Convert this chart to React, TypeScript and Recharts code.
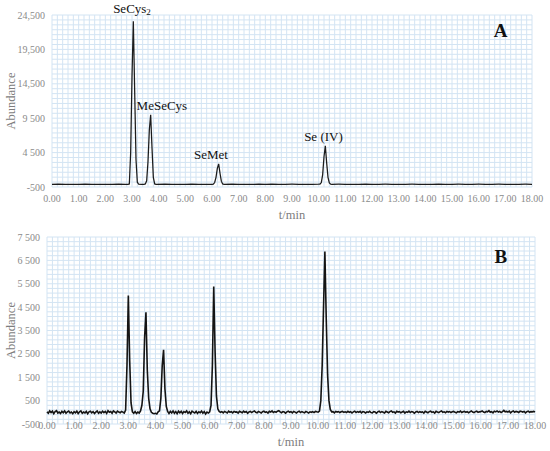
import React from 'react';
import { LineChart, Line, XAxis, YAxis, CartesianGrid, ReferenceDot, Label } from 'recharts';

// ---------- shared ----------
const xTicks = [0, 1, 2, 3, 4, 5, 6, 7, 8, 9, 10, 11, 12, 13, 14, 15, 16, 17, 18];
const xTickLabels = ['0.00', '1.00', '2.00', '3.00', '4.00', '5.00', '6.00', '7.00', '8.00', '9.00', '10.00', '11.00', '12.00', '13.00', '14.00', '15.00', '16.00', '17.00', '18.00'];

// ---------- panel A ----------
const aYTicks = [-500, 4500, 9500, 14500, 19500, 24500];
const aYLabels = ['-500', '4 500', '9 500', '14,500', '19,500', '24,500'];
const aTimes = [
  0, 0.25, 0.5, 0.75, 1.0, 1.25, 1.5, 1.75, 2.0, 2.25, 2.5, 2.75, 2.85, 2.9, 2.95, 3.0, 3.05, 3.1, 3.15, 3.2, 3.25,
  3.35, 3.45, 3.5, 3.55, 3.6, 3.65, 3.7, 3.75, 3.8, 3.85, 3.9, 4.25, 4.5, 4.75, 5.0, 5.25, 5.5, 5.75, 6.0, 6.05,
  6.1, 6.15, 6.2, 6.25, 6.3, 6.35, 6.4, 6.45, 6.75, 7.0, 7.25, 7.5, 7.75, 8.0, 8.25, 8.5, 8.75, 9.0, 9.25, 9.5,
  9.75, 10.0, 10.05, 10.1, 10.15, 10.2, 10.25, 10.3, 10.35, 10.4, 10.45, 10.5, 10.75, 11, 11.25, 11.5, 11.75, 12,
  12.25, 12.5, 12.75, 13, 13.25, 13.5, 13.75, 14, 14.25, 14.5, 14.75, 15, 15.25, 15.5, 15.75, 16, 16.25, 16.5,
  16.75, 17, 17.25, 17.5, 17.75, 18,
];
const aAbundance = [
  -110, -100, -120, -105, -115, -100, -110, -120, -105, -110, -100, -115, -110, -60, 4500, 15500, 23600, 13500, 3500, 200, -100,
  -110, -105, -60, 400, 3200, 7800, 10000, 5200, 900, -60, -110, -100, -115, -105, -110, -100, -115, -105, -110, -90,
  150, 900, 2200, 2850, 1500, 350, -60, -110, -100, -115, -105, -110, -95, -110, -100, -115, -105, -100, -110, -105,
  -115, -100, -90, 150, 1300, 3900, 5500, 3000, 900, 100, -90, -110, -100, -110, -105, -115, -100, -110,
  -105, -100, -115, -105, -110, -100, -110, -105, -115, -100, -110, -105, -100, -115, -110, -100, -110, -105,
  -100, -115, -105, -110, -100, -110,
];
const aPeakLabels = [
  { name: 'SeCys', sub: '2', t: 3.0, v: 25500 },
  { name: 'MeSeCys', sub: '', t: 4.12, v: 11300 },
  { name: 'SeMet', sub: '', t: 5.96, v: 4200 },
  { name: 'Se (IV)', sub: '', t: 10.18, v: 6810 },
];
const aPanelLetter = { text: 'A', t: 16.82, v: 22300 };

// ---------- panel B ----------
const bYTicks = [-500, 500, 1500, 2500, 3500, 4500, 5500, 6500, 7500];
const bYLabels = ['-500', '500', '1 500', '2 500', '3 500', '4 500', '5 500', '6 500', '7 500'];
const B_STEP = 0.05; // sampling interval (min)
const bAbundance = [
  20, -40, 60, -10, 50, -60, 30, 70, -30, 10, -50, 40, -20, 60, -40, 20, 50, -30, 10, -60,
  30, -20, 50, -50, 20, 60, -40, 10, -30, 40, -60, 20, 50, -20, 30, -50, 10, 60, -40, 20,
  -30, 50, -10, 40, -50, 70, 0, 30, -40, 60, 20, -30, 50, 10, -20, 40, 10, -30, 100, 2000,
  5000, 2200, 400, 20, -40, 30, -50, 10, -30, 60, 300, 900, 3200, 4280, 1800, 600, 150, 0, -40, -60,
  -40, -70, 20, 60, 600, 2000, 2670, 1000, 250, 40, -50, 40, -30, 60, -40, 30, -60, 50, -20, 40,
  -50, 30, -10, 60, -40, 20, -60, 50, 10, -30, 40, -50, 20, -20, 50, -40, 30, -70, 10, -30,
  20, 300, 2000, 5380, 2600, 700, 150, 40, 0, 30, -20, 40, 10, -30, 50, 0, 30, -20, 40, 10,
  20, -30, 40, 10, -20, 50, 0, 30, -40, 20, 40, -10, 30, 60, 0, -20, 40, 10, -30, 30,
  50, 0, 20, -30, 40, 10, 60, -10, 30, 0, 50, 70, 20, -20, 30, 10, -40, 20, 50, 0,
  30, -20, 40, 10, -30, 20, 50, -10, 30, 0, -20, 40, 10, -30, 20, 0, 30, -10, 40, 20,
  10, 50, 500, 2000, 4500, 6880, 4000, 1600, 500, 120, 20, 30, -20, 40, 10, 30, -10, 20, 40, 0,
  20, -10, 40, 0, 30, -30, 20, 50, -10, 30, 0, 40, -20, 30, 10, -30, 20, 0, 40, -10,
  -20, 30, 10, -40, 20, 50, -10, 30, 0, -30, 40, 10, -20, 30, 60, 0, 20, -30, 40, 10,
  30, -20, 10, 40, -30, 20, 0, 50, -10, 30, 10, -40, 20, 40, -10, 30, 0, 20, -30, 40,
  10, -20, 30, 50, 0, 20, -30, 40, 10, -10, 30, 60, 0, 20, -20, 40, 10, 30, -10, 20,
  40, 0, -20, 30, 10, 50, -10, 20, 40, 0, 30, -20, 20, 60, 10, -10, 30, 50, 0, 20,
  30, 60, 10, -10, 40, 20, 70, 0, 30, -20, 50, 20, 60, 10, 40, -10, 30, 80, 20, 40,
  10, 50, -20, 30, 60, 0, 40, 20, -10, 50, 30, 10, 40, -20, 30, 50, 0, 30, 20, 40,
  10,
];
const bPanelLetter = { text: 'B', t: 16.74, v: 6670 };

// ---------- build tables ----------
const aData = aTimes.map((t, i) => ({ t, v: aAbundance[i] }));
const bData = bAbundance.map((v, i) => ({ t: Math.round(i * B_STEP * 100) / 100, v }));

const gridX: number[] = [];
for (let i = 0; i <= 90; i++) gridX.push(i * 0.2);
const gridYA: number[] = [];
for (let i = 0; i <= 35; i++) gridYA.push(-500 + (i * 5000) / 7);
const gridYB: number[] = [];
for (let i = 0; i <= 40; i++) gridYB.push(-500 + i * 200);

const FONT = '"Liberation Serif", "Times New Roman", serif';
const TICK_COLOR = '#8a8a8a';
const TITLE_COLOR = '#7d7d7d';
const GRID_COLOR = '#d3e4f3';

const makeXTick = (dy: number) => (props: any) => {
  const { x, y, payload } = props;
  const idx = xTicks.indexOf(payload.value);
  return (
    <text x={x} y={y + dy} textAnchor="middle" dominantBaseline="central" fontFamily={FONT} fontSize={10} fill={TICK_COLOR}>
      {idx >= 0 ? xTickLabels[idx] : ''}
    </text>
  );
};

const makeYTick = (ticks: number[], labels: string[]) => (props: any) => {
  const { x, y, payload } = props;
  const idx = ticks.indexOf(payload.value);
  return (
    <text x={x - 7} y={y} textAnchor="end" dominantBaseline="central" fontFamily={FONT} fontSize={10} fill={TICK_COLOR}>
      {idx >= 0 ? labels[idx] : ''}
    </text>
  );
};

const xTitle = (dy: number) => (props: any) => {
  const vb = props.viewBox || {};
  return (
    <text x={vb.x + vb.width / 2} y={vb.y + dy} textAnchor="middle" dominantBaseline="central" fontFamily={FONT} fontSize={12.5} fill={TITLE_COLOR}>
      t/min
    </text>
  );
};

const yTitle = (props: any) => {
  const vb = props.viewBox || {};
  const cx = 11;
  const cy = vb.y + vb.height / 2;
  return (
    <text x={cx} y={cy} transform={`rotate(-90 ${cx} ${cy})`} textAnchor="middle" dominantBaseline="central" fontFamily={FONT} fontSize={12.5} fill={TITLE_COLOR}>
      Abundance
    </text>
  );
};

const peakLabelShape = (name: string, sub: string) => (props: any) => (
  <text x={props.cx} y={props.cy} textAnchor="middle" dominantBaseline="central" fontFamily={FONT} fontSize={13} fill="#111">
    {name}
    {sub ? <tspan fontSize={9} dy={4}>{sub}</tspan> : null}
  </text>
);

const letterShape = (text: string) => (props: any) => (
  <text x={props.cx} y={props.cy} textAnchor="middle" dominantBaseline="central" fontFamily={FONT} fontSize={19} fontWeight="bold" fill="#111">
    {text}
  </text>
);

export default function App() {
  return (
    <div style={{ position: 'absolute', left: 0, top: 0, width: 550, height: 451, background: '#fff', overflow: 'hidden' }}>
      <div style={{ position: 'absolute', left: 0, top: 0 }}>
        <LineChart width={550} height={222} data={aData} margin={{ top: 15, right: 18, bottom: 0, left: 0 }}>
          <CartesianGrid stroke={GRID_COLOR} strokeWidth={1} verticalValues={gridX} horizontalValues={gridYA} />
          <XAxis dataKey="t" type="number" domain={[0, 18]} ticks={xTicks} axisLine={false} tickLine={false} tickSize={0} tickMargin={0} height={35} interval={0} tick={makeXTick(11)}>
            <Label content={xTitle(28)} />
          </XAxis>
          <YAxis type="number" domain={[-500, 24500]} ticks={aYTicks} axisLine={false} tickLine={false} tickSize={0} tickMargin={0} width={52} interval={0} tick={makeYTick(aYTicks, aYLabels)}>
            <Label content={yTitle} />
          </YAxis>
          <Line dataKey="v" type="linear" stroke="#1c1c1c" strokeWidth={1.25} dot={false} isAnimationActive={false} />
          {aPeakLabels.map((p) => (
            <ReferenceDot key={p.name} x={p.t} y={p.v} r={0} ifOverflow="visible" shape={peakLabelShape(p.name, p.sub)} />
          ))}
          <ReferenceDot x={aPanelLetter.t} y={aPanelLetter.v} r={0} ifOverflow="visible" shape={letterShape(aPanelLetter.text)} />
        </LineChart>
      </div>
      <div style={{ position: 'absolute', left: 0, top: 225 }}>
        <LineChart width={550} height={226} data={bData} margin={{ top: 12, right: 15, bottom: 0, left: 0 }}>
          <CartesianGrid stroke={GRID_COLOR} strokeWidth={1} verticalValues={gridX} horizontalValues={gridYB} />
          <XAxis dataKey="t" type="number" domain={[0, 18]} ticks={xTicks} axisLine={false} tickLine={false} tickSize={0} tickMargin={0} height={27} interval={0} tick={makeXTick(1)}>
            <Label content={xTitle(18)} />
          </XAxis>
          <YAxis type="number" domain={[-500, 7500]} ticks={bYTicks} axisLine={false} tickLine={false} tickSize={0} tickMargin={0} width={47} interval={0} tick={makeYTick(bYTicks, bYLabels)}>
            <Label content={yTitle} />
          </YAxis>
          <Line dataKey="v" type="linear" stroke="#141414" strokeWidth={1.6} dot={false} isAnimationActive={false} />
          <ReferenceDot x={bPanelLetter.t} y={bPanelLetter.v} r={0} ifOverflow="visible" shape={letterShape(bPanelLetter.text)} />
        </LineChart>
      </div>
    </div>
  );
}
